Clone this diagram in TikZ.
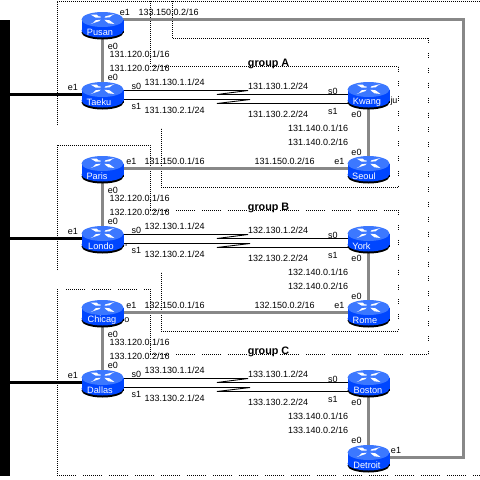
\documentclass[tikz,border=0pt]{standalone}
\usepackage{fontspec}
\setmainfont{Liberation Sans}
\definecolor{rblue}{RGB}{0,70,255}
\definecolor{rtop}{RGB}{60,120,255}
\definecolor{lnk}{RGB}{136,136,136}
\pgfdeclarelayer{back}
\pgfsetlayers{back,main}
\tikzset{
 lbl/.style={font=\fontsize{9}{10}\selectfont,inner sep=0pt,text=black},
 grp/.style={font=\bfseries\fontsize{10.8}{12}\selectfont,inner sep=0pt},
 rname/.style={font=\fontsize{9.2}{10}\selectfont,text=white,inner sep=0pt},
 rnode/.style={minimum width=41pt,minimum height=24pt,inner sep=0pt,outer sep=0pt},
 dots/.style={black,line width=0.75pt,dash pattern=on 0.9pt off 1.1pt},
 dotsh/.style={black,line width=0.75pt,dash pattern=on 0.9pt off 1.1pt on 0.9pt off 1.1pt on 0.9pt off 1.1pt on 0.9pt off 1.1pt on 0.9pt off 1.1pt on 0.9pt off 1.1pt on 0.9pt off 1.1pt on 0.9pt off 1.1pt on 0.9pt off 1.1pt on 0.9pt off 7.1pt},
 dotsv/.style={black,line width=0.75pt,dash pattern=on 0.9pt off 1.1pt on 0.9pt off 1.1pt on 0.9pt off 10pt},
 grayl/.style={lnk,line width=3pt},
 blackl/.style={black,line width=3pt},
 ser/.style={black,line width=0.9pt},
}
% name, cx, y of top ellipse centre, text, text x offset
\newcommand{\router}[5]{%
 \begin{scope}[shift={(#2,#3)}]
  \fill[black] (-21,0) rectangle (21,13);
  \fill[black] (0,13) ellipse[x radius=21,y radius=7];
  \fill[rblue] (-21,0) rectangle (21,11);
  \fill[rblue] (0,11) ellipse[x radius=21,y radius=7];
  \fill[rtop] (0,0) ellipse[x radius=21,y radius=7.5];
  \fill[white] (-12,-5) -- (-6,-5) -- (-4,-3.2) -- (-2,-3) -- (-2,-1.8) -- (-7,-2) -- cycle;
  \fill[white] (12,-5.5) -- (3,-3.2) -- (2,-1.8) -- (7,-2.2) -- (9,-3.8) -- cycle;
  \fill[white] (-12,4.5) -- (-3,1.5) -- (-2,0.2) -- (-7,0.8) -- (-9,3) -- cycle;
  \fill[white] (12,4.5) -- (7,0.8) -- (2,0.2) -- (3,1.5) -- (6,3.8) -- cycle;
  \node[rname] (#1t) at (#5,12.5) {#4};
  \node[rnode] (#1) at (0,5) {};
 \end{scope}}
\newcommand{\blk}[2]{% dy, major
 \begin{scope}[shift={(0,#1)}]
 \node[lbl,anchor=west] (a#2) at (109.5,54.5) {#2.120.0.1/16};
 \node[lbl,anchor=west] (b#2) at (109.5,68.5) {#2.120.0.2/16};
 \node[lbl,anchor=west] (c#2) at (144.5,82.5) {#2.130.1.1/24};
 \node[lbl,anchor=west] (d#2) at (144.5,110.5) {#2.130.2.1/24};
 \node[lbl,anchor=west] (e#2) at (248,86.5) {#2.130.1.2/24};
 \node[lbl,anchor=west] (f#2) at (248,114.5) {#2.130.2.2/24};
 \node[lbl,anchor=west] (g#2) at (288,128.5) {#2.140.0.1/16};
 \node[lbl,anchor=west] (h#2) at (288,142.5) {#2.140.0.2/16};
 \node[lbl] (i#2) at (113,46) {e0};
 \node[lbl] (j#2) at (113,77.5) {e0};
 \node[lbl] (k#2) at (73,87) {e1};
 \node[lbl] (l#2) at (136.5,86.5) {s0};
 \node[lbl] (m#2) at (136.5,106) {s1};
 \node[lbl] (n#2) at (333,91.5) {s0};
 \node[lbl] (o#2) at (333,111) {s1};
 \node[lbl] (p#2) at (356.5,114.5) {e0};
 \node[lbl] (q#2) at (356.5,152.5) {e0};
 \end{scope}}
\begin{document}
\begin{tikzpicture}[x=1pt,y=-1pt]
\useasboundingbox (0,0) rectangle (480,480);
% routers
\router{pusan}{102.5}{19.5}{Pusan}{-2.5}
\router{taeku}{102.5}{89.5}{Taeku}{-3.5}
\router{paris}{102.5}{163.5}{Paris}{-5.5}
\router{londo}{102.5}{233.5}{Londo}{-1.5}
\router{chicag}{102.5}{307.5}{Chicag}{-0.5}
\router{dallas}{102.5}{377.5}{Dallas}{-2.5}
\router{kwang}{368.5}{89.5}{Kwang}{-1.5}
\router{seoul}{368.5}{163.5}{Seoul}{-4.5}
\router{york}{368.5}{233.5}{York}{-7}
\router{rome}{368.5}{307.5}{Rome}{-3.5}
\router{boston}{368.5}{377.5}{Boston}{-0.5}
\router{detroit}{368.5}{452.5}{Detroit}{-1.5}
\coordinate (bar) at (10,0);
\coordinate (pe) at (123,19.5);
\coordinate (c1) at (463,19.5);
\coordinate (c2) at (463,457.5);
\begin{pgfonlayer}{back}
\fill[white] (0,0) rectangle (480,480);
% dotted regions
\draw[dots] (57,125) -- (57,1) -- (480,1);
\draw[dots] (150,1) -- (150,64);
\draw[dots] (150,66.5) -- (398,66.5);
\draw[dotsv] (398,66.5) -- (398,187);
\draw[dots] (398,187) -- (161,187) -- (161,128);
\draw[dots] (172,1) -- (172,38) -- (428,38);
\draw[dotsv] (428,38) -- (428,353);
\draw[dots] (57,270) -- (57,145) -- (150,145) -- (150,210);
\draw[dotsh] (150,210) -- (398,210);
\draw[dotsv] (398,210) -- (398,331);
\draw[dots] (398,331) -- (161,331) -- (161,272);
\draw[dotsh] (66,289) -- (150,289);
\draw[dots] (150,289) -- (150,354);
\draw[dotsh] (150,354) -- (428,354);
\draw[dots] (57,289) -- (57,475);
\draw[dotsh] (57,475) -- (480,475);
% links
\draw[grayl] (pe) -- (c1) -- (c2) -- (detroit.center |- c2);
\draw[grayl] (paris.center) -- (seoul.center);
\draw[grayl] (chicag.center) -- (rome.center);
\draw[grayl] (pusan) -- (taeku);
\draw[grayl] (paris) -- (londo);
\draw[grayl] (chicag) -- (dallas);
\draw[grayl] (kwang) -- (seoul);
\draw[grayl] (york) -- (rome);
\draw[grayl] (boston) -- (detroit);
\foreach \a/\b in {taeku/kwang,londo/york,dallas/boston}{
 \draw[blackl] (\a.center) -- (bar |- \a.center);
 \draw[ser] ([yshift=4pt]\a.center) -- ++(145.5,0) -- ++(-31,4) -- (\b.center);
 \draw[ser] ([yshift=-5pt]\a.center) -- ++(147.5,0) -- ++(-33,4) -- ([yshift=-9pt]\b.center);
}
\end{pgfonlayer}
% left bar
\fill[black] (0,20) rectangle (10,476);
% labels
\blk{0}{131}
\blk{144}{132}
\blk{288}{133}
\node[lbl] (x1) at (125,12.5) {e1};
\node[lbl,anchor=west] (x2) at (138.3,12.5) {133.150.0.2/16};
\node[lbl] (x3) at (131.5,161.7) {e1};
\node[lbl,anchor=west] (x4) at (144.3,161.7) {131.150.0.1/16};
\node[lbl,anchor=west] (x5) at (254.3,161.7) {131.150.0.2/16};
\node[lbl] (x6) at (339.3,161.7) {e1};
\node[lbl] (x7) at (131.5,305.7) {e1};
\node[lbl,anchor=west] (x8) at (144.3,305.7) {132.150.0.1/16};
\node[lbl,anchor=west] (x9) at (254.3,305.7) {132.150.0.2/16};
\node[lbl] (x10) at (339.3,305.7) {e1};
\node[lbl] (x11) at (396,450) {e1};
\node[lbl] (x12) at (394,101) {ju};
\node[lbl] (x13) at (127,320) {o};
\node[lbl] (x14) at (126,245) {\fontsize{5}{5}\selectfont n};
\node[grp,anchor=west] (ga) at (247.7,63.5) {group A};
\node[grp,anchor=west] (gb) at (247.7,207.5) {group B};
\node[grp,anchor=west] (gc) at (247.7,351.5) {group C};
\end{tikzpicture}
\end{document}
